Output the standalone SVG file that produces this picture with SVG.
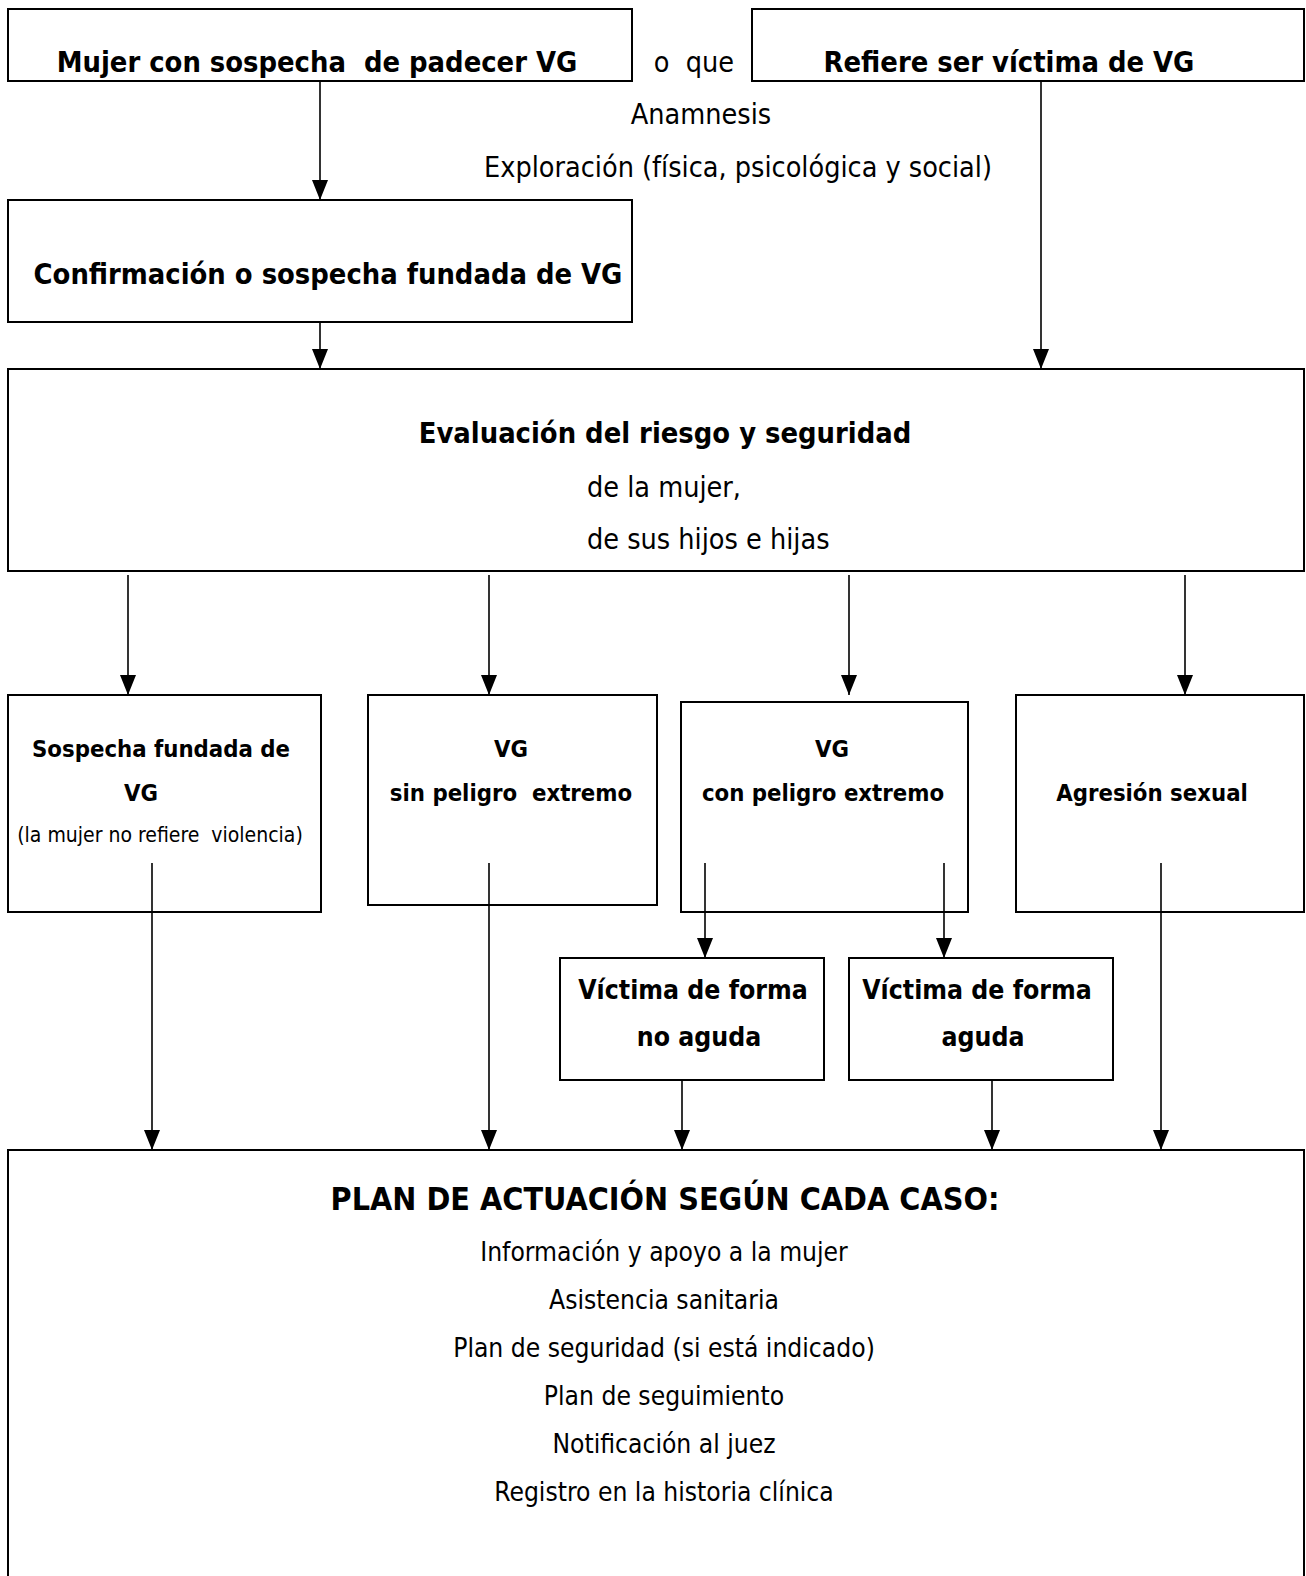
<svg xmlns="http://www.w3.org/2000/svg" width="1306" height="1576" viewBox="0 0 1306 1576">
<defs>
<marker id="arr" markerUnits="userSpaceOnUse" markerWidth="20" markerHeight="16" refX="20" refY="8" orient="auto" viewBox="0 0 20 16">
<path d="M0,0 L20,8 L0,16 Z" fill="#000"/>
</marker>
</defs>
<style>
.box{fill:#fff;stroke:#000;stroke-width:2}
.c{stroke:#000;stroke-width:1.6;fill:none;marker-end:url(#arr)}
text{font-family:"DejaVu Sans Condensed","DejaVu Sans",sans-serif;fill:#000;white-space:pre}
.b{font-weight:bold;font-size:28.8px;text-anchor:middle}
.bm{font-weight:bold;font-size:23.7px;text-anchor:middle}
.bv{font-weight:bold;font-size:26.4px;text-anchor:middle}
.r{font-size:28.5px;text-anchor:middle}
.l{font-size:26.2px;text-anchor:middle}
.s{font-size:21px;text-anchor:middle}
.t{font-weight:bold;font-size:32px;text-anchor:middle}
</style>
<rect width="1306" height="1576" fill="#fff"/>
<g id="n1"><rect class="box" x="8" y="9" width="624" height="72"/><text class="b" x="317" y="72">Mujer con sospecha  de padecer VG</text></g>
<g id="oque"><text class="r" x="694" y="72">o  que</text></g>
<g id="n2"><rect class="box" x="752" y="9" width="552" height="72"/><text class="b" x="1009" y="72">Refiere ser víctima de VG</text></g>
<g id="labels"><text class="r" x="701" y="124">Anamnesis</text><text class="r" x="738" y="177">Exploración (física, psicológica y social)</text></g>
<g id="n3"><rect class="box" x="8" y="200" width="624" height="122"/><text class="b" x="328" y="284">Confirmación o sospecha fundada de VG</text></g>
<g id="n4"><rect class="box" x="8" y="369" width="1296" height="202"/><text class="b" x="665" y="443">Evaluación del riesgo y seguridad</text><text class="r" x="587" y="497" style="text-anchor:start">de la mujer,</text><text class="r" x="587" y="549" style="text-anchor:start">de sus hijos e hijas</text></g>
<g id="n5"><rect class="box" x="8" y="695" width="313" height="217"/><text class="bm" x="161" y="757">Sospecha fundada de</text><text class="bm" x="141" y="801">VG</text><text class="s" x="160" y="842">(la mujer no refiere  violencia)</text></g>
<g id="n6"><rect class="box" x="368" y="695" width="289" height="210"/><text class="bm" x="511" y="757">VG</text><text class="bm" x="511" y="801">sin peligro  extremo</text></g>
<g id="n7"><rect class="box" x="681" y="702" width="287" height="210"/><text class="bm" x="832" y="757">VG</text><text class="bm" x="823" y="801">con peligro extremo</text></g>
<g id="n8"><rect class="box" x="1016" y="695" width="288" height="217"/><text class="bm" x="1152" y="801">Agresión sexual</text></g>
<g id="n9"><rect class="box" x="560" y="958" width="264" height="122"/><text class="bv" x="693" y="999">Víctima de forma</text><text class="bv" x="699" y="1046">no aguda</text></g>
<g id="n10"><rect class="box" x="849" y="958" width="264" height="122"/><text class="bv" x="977" y="999">Víctima de forma</text><text class="bv" x="983" y="1046">aguda</text></g>
<g id="n11"><rect class="box" x="8" y="1150" width="1296" height="440"/><text class="t" x="665" y="1210">PLAN DE ACTUACIÓN SEGÚN CADA CASO:</text>
<text class="l" x="664" y="1261">Información y apoyo a la mujer</text>
<text class="l" x="664" y="1309">Asistencia sanitaria</text>
<text class="l" x="664" y="1357">Plan de seguridad (si está indicado)</text>
<text class="l" x="664" y="1405">Plan de seguimiento</text>
<text class="l" x="664" y="1453">Notificación al juez</text>
<text class="l" x="664" y="1501">Registro en la historia clínica</text></g>
<g id="connectors">
<line class="c" x1="320" y1="81" x2="320" y2="200"/>
<line class="c" x1="320" y1="322" x2="320" y2="369"/>
<line class="c" x1="1041" y1="81" x2="1041" y2="369"/>
<line class="c" x1="128" y1="575" x2="128" y2="695"/>
<line class="c" x1="489" y1="575" x2="489" y2="695"/>
<line class="c" x1="849" y1="575" x2="849" y2="695"/>
<line class="c" x1="1185" y1="575" x2="1185" y2="695"/>
<line class="c" x1="152" y1="863" x2="152" y2="1150"/>
<line class="c" x1="489" y1="863" x2="489" y2="1150"/>
<line class="c" x1="705" y1="863" x2="705" y2="958"/>
<line class="c" x1="944" y1="863" x2="944" y2="958"/>
<line class="c" x1="1161" y1="863" x2="1161" y2="1150"/>
<line class="c" x1="682" y1="1080" x2="682" y2="1150"/>
<line class="c" x1="992" y1="1080" x2="992" y2="1150"/>
</g>
</svg>
